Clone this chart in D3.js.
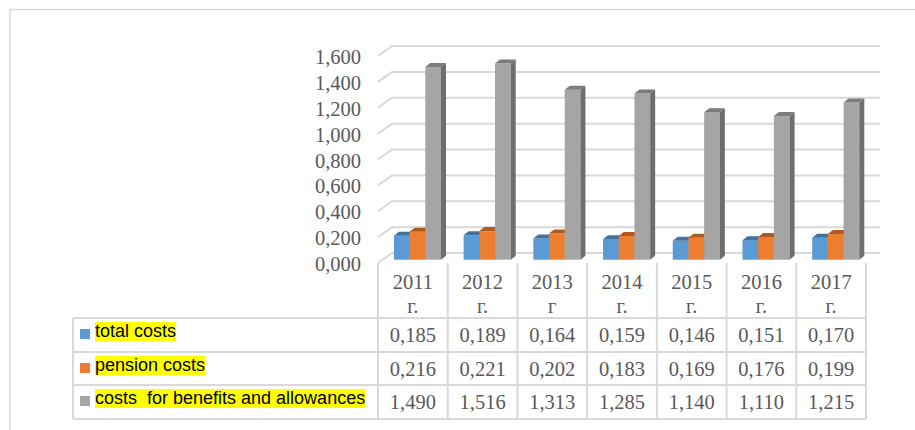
<!DOCTYPE html>
<html>
<head>
<meta charset="utf-8">
<script src="https://cdn.jsdelivr.net/npm/d3@7"></script>
<style>
  body { margin: 0; background: #fff; }
  svg { display: block; }
</style>
</head>
<body>
<svg id="chart" width="915" height="430"></svg>
<script>
"use strict";

// chart data
const years = ["2011", "2012", "2013", "2014", "2015", "2016", "2017"];
const yearSuffix = ["г.", "г.", "г", "г.", "г.", "г.", "г."];
const seriesNames = ["total costs", "pension costs", "costs  for benefits and allowances"];
const totalCosts = [0.185, 0.189, 0.164, 0.159, 0.146, 0.151, 0.170];
const pensionCosts = [0.216, 0.221, 0.202, 0.183, 0.169, 0.176, 0.199];
const benefitCosts = [1.490, 1.516, 1.313, 1.285, 1.140, 1.110, 1.215];
const yTicks = [0, 0.2, 0.4, 0.6, 0.8, 1.0, 1.2, 1.4, 1.6];

(function() {
  window.addEventListener("load", init);

  function init() {
    const svg = d3.select("#chart");
    const series = [totalCosts, pensionCosts, benefitCosts];
    const front = ["#5b9bd5", "#ed7d31", "#a5a5a5"];
    const top = ["#41719c", "#ae5a21", "#7c7c7c"];
    const side = ["#3d6a94", "#a4541f", "#6e6e6e"];
    const grid = "#d9d9d9";
    const textGrey = "#595959";
    const fmt = v => d3.format(".3f")(v).replace(".", ",");

    // outer frame
    svg.append("path")
      .attr("d", "M10,430 V9.5 H915")
      .attr("fill", "none")
      .attr("stroke", grid)
      .attr("stroke-width", 1.5);

    // scales (front floor edge)
    const x = d3.scaleBand().domain(years).range([378, 866]);
    const y = d3.scaleLinear().domain([0, 1.6]).range([263, 56]);
    const inner = d3.scaleBand().domain(d3.range(3))
      .range([0, x.bandwidth()]).paddingInner(0).paddingOuter(0.72);

    const wall = { dx: 14, dy: -10 };   // depth of the plot box
    const plane = { dx: 4.6, dy: -3.3 }; // where the bars stand
    const bd = { dx: 5, dy: -4 };       // depth of a single bar
    const x0 = x.range()[0], x1 = x.range()[1];

    // gridlines on the back wall + left wall slants
    const gl = svg.append("g").attr("class", "grid");
    gl.selectAll("path")
      .data(yTicks)
      .enter().append("path")
      .attr("d", d => `M${x0},${y(d)} L${x0 + wall.dx},${y(d) + wall.dy} H${x1 + wall.dx}`)
      .attr("fill", "none")
      .attr("stroke", grid)
      .attr("stroke-width", 2);

    // y labels
    svg.append("g").selectAll("text")
      .data(yTicks)
      .enter().append("text")
      .attr("x", 361)
      .attr("y", d => y(d) + 1)
      .attr("text-anchor", "end")
      .attr("dominant-baseline", "central")
      .attr("font-family", "'Liberation Serif', 'Times New Roman', serif")
      .attr("font-size", 20.5)
      .attr("fill", textGrey)
      .text(fmt);

    // 3D bars
    const bars = svg.append("g").attr("class", "bars");
    years.forEach((yr, i) => {
      series.forEach((s, k) => {
        const bx = x(yr) + inner(k) + plane.dx;
        const w = inner.bandwidth();
        const yb = y(0) + plane.dy;
        const yt = y(s[i]) + plane.dy;
        const g = bars.append("g");
        g.append("rect")
          .attr("x", bx).attr("y", yt)
          .attr("width", w).attr("height", yb - yt)
          .attr("fill", front[k]);
        g.append("path")
          .attr("d", `M${bx},${yt} L${bx + bd.dx},${yt + bd.dy} L${bx + w + bd.dx},${yt + bd.dy} L${bx + w},${yt} Z`)
          .attr("fill", top[k]);
        g.append("path")
          .attr("d", `M${bx + w},${yt} L${bx + w + bd.dx},${yt + bd.dy} L${bx + w + bd.dx},${yb + bd.dy} L${bx + w},${yb} Z`)
          .attr("fill", side[k]);
      });
    });

    // data table
    const rowTop = [318, 352, 385];
    const rowBottom = 419;
    const tableLeft = 73;
    const tbl = svg.append("g").attr("class", "table");

    // vertical lines
    const vx = [x0].concat(years.map(d => x(d) + x.bandwidth()));
    tbl.selectAll("line.v")
      .data(vx)
      .enter().append("line")
      .attr("class", "v")
      .attr("x1", d => d).attr("x2", d => d)
      .attr("y1", y(0)).attr("y2", rowBottom)
      .attr("stroke", grid).attr("stroke-width", 2);
    tbl.append("line")
      .attr("x1", tableLeft).attr("x2", tableLeft)
      .attr("y1", rowTop[0]).attr("y2", rowBottom)
      .attr("stroke", grid).attr("stroke-width", 2);
    // horizontal lines
    tbl.selectAll("line.h")
      .data(rowTop.concat([rowBottom]))
      .enter().append("line")
      .attr("class", "h")
      .attr("x1", tableLeft).attr("x2", x1)
      .attr("y1", d => d).attr("y2", d => d)
      .attr("stroke", grid).attr("stroke-width", 2);

    // header: years
    const head = tbl.selectAll("text.year")
      .data(years)
      .enter().append("text")
      .attr("class", "year")
      .attr("text-anchor", "middle")
      .attr("font-family", "'Liberation Serif', 'Times New Roman', serif")
      .attr("font-size", 20.5)
      .attr("fill", textGrey);
    head.append("tspan")
      .attr("x", d => x(d) + x.bandwidth() / 2)
      .attr("y", 289)
      .text(d => d);
    head.append("tspan")
      .attr("x", d => x(d) + x.bandwidth() / 2)
      .attr("y", 313)
      .text((d, i) => yearSuffix[i]);

    // values
    series.forEach((s, k) => {
      tbl.append("g").selectAll("text")
        .data(s)
        .enter().append("text")
        .attr("x", (d, i) => x(years[i]) + x.bandwidth() / 2)
        .attr("y", rowTop[k] + 24)
        .attr("text-anchor", "middle")
        .attr("font-family", "'Liberation Serif', 'Times New Roman', serif")
        .attr("font-size", 20.5)
        .attr("fill", textGrey)
        .text(fmt);
    });

    // legend keys with highlighted labels
    seriesNames.forEach((name, k) => {
      const g = tbl.append("g");
      g.append("rect")
        .attr("x", 80).attr("y", rowTop[k] + 11)
        .attr("width", 10).attr("height", 10)
        .attr("fill", front[k]);
      const hl = g.append("rect").attr("fill", "#ffff00");
      const t = g.append("text")
        .attr("x", 95)
        .attr("y", rowTop[k] + 19)
        .attr("font-family", "'Liberation Sans', Arial, sans-serif")
        .attr("font-size", 18)
        .attr("fill", "#000")
        .style("white-space", "pre")
        .text(name);
      const bb = t.node().getBBox();
      hl.attr("x", bb.x).attr("y", bb.y + 1)
        .attr("width", bb.width).attr("height", bb.height - 1);
    });
  }
})();
</script>
</body>
</html>
